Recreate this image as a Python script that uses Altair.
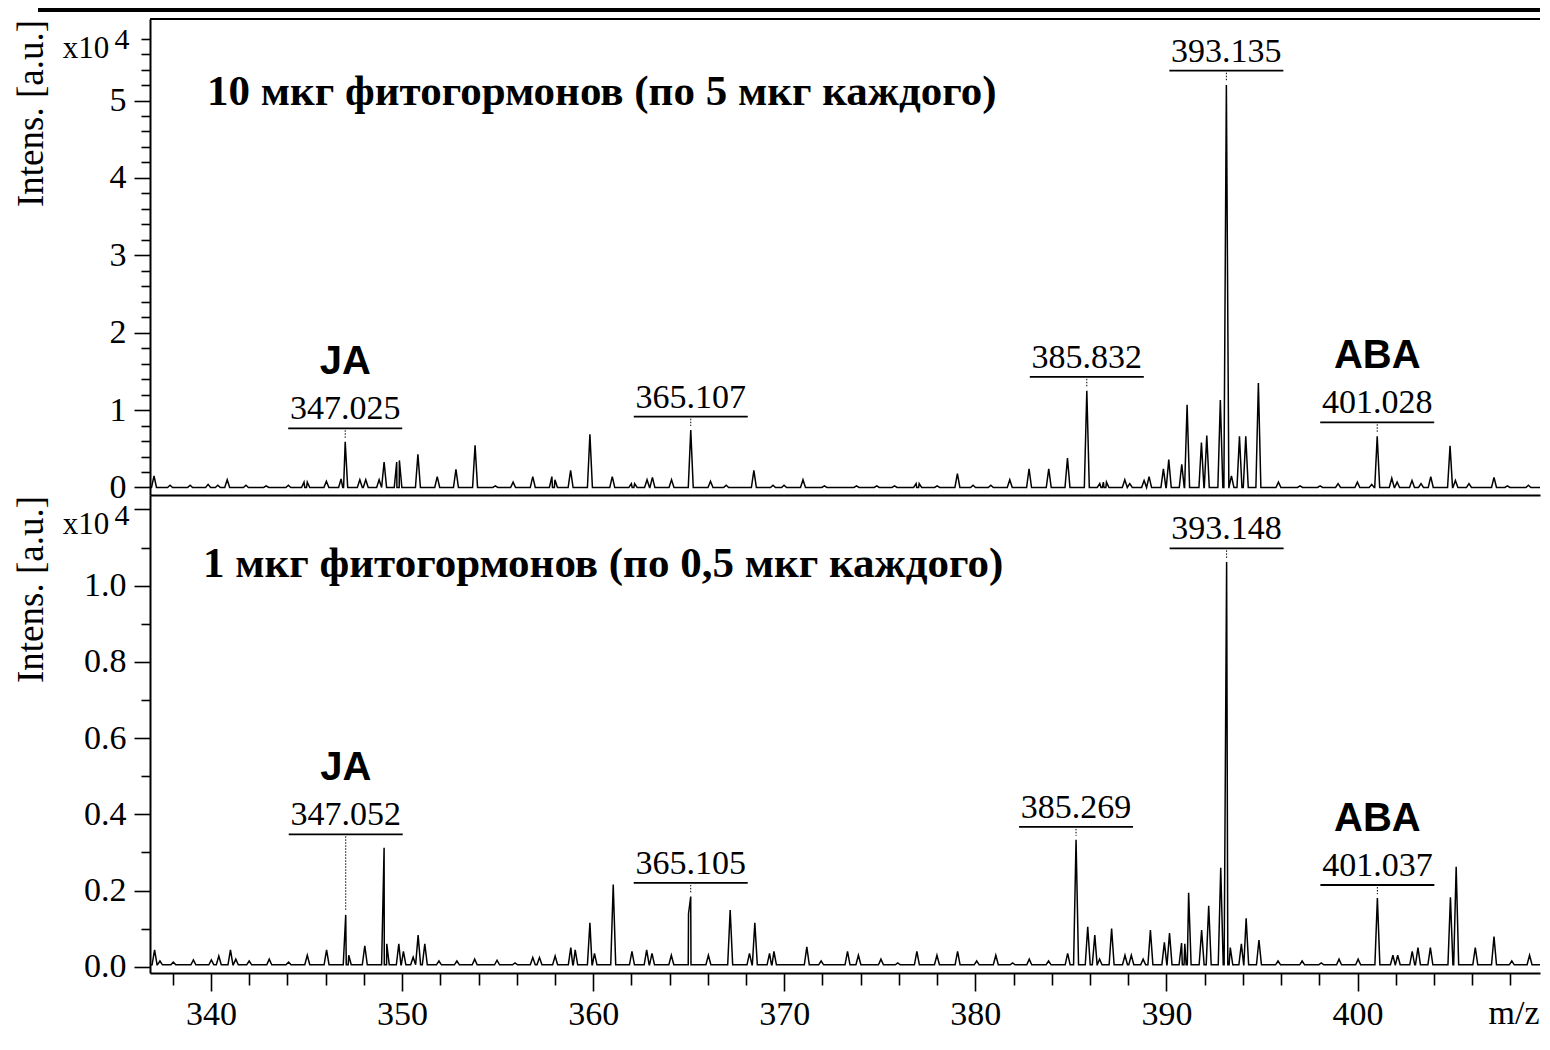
import altair as alt
import pandas as pd

# ---------------- data (m/z, intensity in units of 10^4) ----------------
top_mz = [337.02, 337.86, 338.91, 339.85, 340.36, 340.85, 341.83, 342.89, 344.05, 344.87,
          345.04, 346.04, 346.81, 347.025, 347.79, 348.10, 348.80, 349.06, 349.72, 349.86,
          350.83, 351.84, 352.82, 353.82, 354.88, 355.81, 356.84, 357.84, 358.00, 358.82,
          359.83, 361.00, 362.00, 362.17, 362.82, 363.10, 364.10, 365.107, 366.14, 366.96,
          368.41, 369.41, 369.99, 370.98, 372.10, 373.78, 374.84, 375.77, 376.90, 377.06,
          378.00, 379.06, 379.88, 380.81, 381.80, 382.81, 383.84, 384.82, 385.832, 386.51,
          386.70, 386.86, 387.82, 388.08, 388.83, 389.09, 389.84, 390.12, 390.80, 391.08,
          391.83, 392.11, 392.82, 393.135, 393.40, 393.82, 394.15, 394.81, 395.86, 396.99,
          398.04, 398.98, 399.99, 400.74, 401.028, 401.79, 402.07, 402.85, 403.32, 403.83,
          404.84, 405.12, 405.83, 407.14, 407.84, 408.94, 409.88]
top_int = [0.15, 0.03, 0.03, 0.04, 0.03, 0.10, 0.03, 0.02, 0.03, 0.07,
           0.07, 0.08, 0.11, 0.59, 0.10, 0.10, 0.10, 0.33, 0.33, 0.35,
           0.43, 0.14, 0.235, 0.545, 0.02, 0.07, 0.14, 0.14, 0.10, 0.22,
           0.687, 0.14, 0.05, 0.05, 0.10, 0.13, 0.10, 0.743, 0.08, 0.03,
           0.22, 0.03, 0.03, 0.10, 0.02, 0.02, 0.02, 0.02, 0.05, 0.05,
           0.02, 0.18, 0.03, 0.03, 0.10, 0.24, 0.24, 0.38, 1.25, 0.05,
           0.07, 0.07, 0.10, 0.05, 0.09, 0.14, 0.24, 0.36, 0.30, 1.07,
           0.58, 0.67, 1.13, 5.20, 0.15, 0.66, 0.66, 1.35, 0.07, 0.02,
           0.02, 0.05, 0.07, 0.04, 0.66, 0.12, 0.07, 0.09, 0.05, 0.14,
           0.54, 0.09, 0.05, 0.13, 0.02, 0.03, 0.03]

bot_mz = [337.05, 337.33, 338.03, 339.08, 340.02, 340.41, 341.02, 341.30, 342.00, 343.05,
          344.06, 345.04, 346.05, 347.052, 347.21, 348.05, 349.06, 349.20, 349.83, 350.07,
          350.58, 350.84, 351.19, 351.93, 352.87, 353.80, 354.97, 355.91, 356.84, 357.19,
          358.01, 358.83, 359.06, 359.83, 360.07, 361.05, 362.03, 362.80, 363.08, 364.09,
          364.99, 365.105, 366.03, 367.17, 368.18, 368.46, 369.23, 369.46, 371.18, 371.93,
          373.31, 373.88, 375.06, 375.94, 376.94, 377.99, 379.07, 380.07, 381.07, 381.95,
          382.82, 383.83, 384.83, 385.269, 385.88, 386.25, 386.50, 387.13, 387.83, 388.16,
          388.78, 389.16, 389.89, 390.16, 390.79, 390.96, 391.16, 391.84, 392.21, 392.84,
          393.148, 393.34, 393.92, 394.17, 394.84, 395.84, 397.10, 398.10, 399.03, 400.03,
          401.037, 401.85, 402.10, 402.86, 403.16, 403.81, 404.86, 405.16, 406.16, 407.14,
          408.07, 409.00, 409.90]
bot_int = [0.044, 0.015, 0.012, 0.018, 0.018, 0.028, 0.044, 0.020, 0.015, 0.020,
           0.012, 0.030, 0.044, 0.136, 0.030, 0.055, 0.312, 0.060, 0.060, 0.040,
           0.025, 0.083, 0.060, 0.015, 0.015, 0.020, 0.017, 0.010, 0.024, 0.024,
           0.028, 0.050, 0.044, 0.115, 0.035, 0.216, 0.040, 0.044, 0.035, 0.030,
           0.139, 0.184, 0.030, 0.149, 0.035, 0.115, 0.035, 0.040, 0.052, 0.015,
           0.040, 0.030, 0.020, 0.010, 0.040, 0.030, 0.040, 0.015, 0.030, 0.010,
           0.020, 0.015, 0.035, 0.333, 0.105, 0.083, 0.020, 0.100, 0.030, 0.030,
           0.020, 0.096, 0.064, 0.088, 0.062, 0.060, 0.194, 0.096, 0.160, 0.260,
           1.062, 0.050, 0.060, 0.127, 0.070, 0.015, 0.015, 0.010, 0.020, 0.020,
           0.180, 0.030, 0.030, 0.040, 0.050, 0.050, 0.182, 0.262, 0.050, 0.079,
           0.015, 0.030, 0.015]

top_base = 0.0
bot_base = 0.005

# annotations: label text, m/z, peak apex, underline level, tag
top_ann_text = ["347.025", "365.107", "385.832", "393.135", "401.028"]
top_ann_mz = [347.025, 365.107, 385.832, 393.135, 401.028]
top_ann_peak = [0.59, 0.743, 1.25, 5.20, 0.66]
top_ann_level = [0.765, 0.915, 1.43, 5.385, 0.842]
top_ann_tag = ["JA", "", "", "", "ABA"]

bot_ann_text = ["347.052", "365.105", "385.269", "393.148", "401.037"]
bot_ann_mz = [347.052, 365.105, 385.269, 393.148, 401.037]
bot_ann_peak = [0.136, 0.184, 0.333, 1.062, 0.180]
bot_ann_level = [0.3475, 0.220, 0.367, 1.098, 0.2144]
bot_ann_tag = ["JA", "", "", "", "ABA"]

top_title = "10 мкг фитогормонов (по 5 мкг каждого)"
bot_title = "1 мкг фитогормонов (по 0,5 мкг каждого)"
y_title = "Intens. [a.u.]"
x_title = "m/z"
exp_base = "x10"
exp_power = "4"

x_ticks = [338 + 2 * i for i in range(37)]
top_y_ticks = [round(0.2 * i, 1) for i in range(30)]
bot_y_ticks = [round(0.1 * i, 1) for i in range(13)]

W = 1390
X_DOMAIN = [336.81, 336.81 + W / 19.11]
TOP_DOMAIN = [-0.097, 6.053]
BOT_DOMAIN = [-0.0165, 1.238]
H_TOP = 476
H_BOT = 478

SERIF = "Liberation Serif"
SANS = "Liberation Sans"


def profile(mz, inten, base, w=0.13):
    lo, hi = X_DOMAIN
    pts = []
    for m, h in sorted(zip(mz, inten)):
        pts += [(m - w, base), (m, h), (m + w, base)]
    pts = [p for p in pts if lo <= p[0] <= hi]
    pts = [(lo, base)] + pts + [(hi, base)]
    pts.sort(key=lambda p: p[0])
    df = pd.DataFrame(pts, columns=["mz", "I"])
    df["idx"] = range(len(df))
    return df


xscale = alt.Scale(domain=X_DOMAIN, nice=False, zero=False)


def y_axis(ticks, label_test, label_fmt, max_label):
    return alt.Axis(
        values=ticks,
        labelExpr=f"({label_test}) && datum.value < {max_label} ? format(datum.value, '{label_fmt}') : ''",
        tickSize={"condition": {"test": label_test, "value": 16}, "value": 9},
        labelPadding=8,
        labelOverlap=False,
        labelFlush=False,
        labelBound=False,
        grid=False,
        title=y_title,
        titleX=-119,
        titleY=94,
        titleAngle=270,
        titleAlign="center",
        titleBaseline="middle",
        titleFont=SERIF,
        titleFontSize=37,
        titleFontWeight="normal",
        titleColor="black",
    )


top_yaxis = y_axis(top_y_ticks, "abs(datum.value - round(datum.value)) < 0.001", "d", 5.5)
bot_yaxis = y_axis(bot_y_ticks, "abs(datum.value*5 - round(datum.value*5)) < 0.001", ".1f", 1.1)

top_xaxis = alt.Axis(ticks=False, labels=False, grid=False, title=None, domain=True)

x_test = "abs(datum.value/10 - round(datum.value/10)) < 0.001"
bot_xaxis = alt.Axis(
    values=x_ticks,
    labelExpr=f"({x_test}) && datum.value < 405 ? format(datum.value, 'd') : ''",
    tickSize={"condition": {"test": x_test, "value": 18}, "value": 12},
    labelPadding=6,
    labelOverlap=False,
    labelFlush=False,
    labelBound=False,
    grid=False,
    title=x_title,
    titleX=W - 52,
    titleY=50,
    titleAlign="left",
    titleAnchor="start",
    titleBaseline="alphabetic",
    titleFont=SERIF,
    titleFontSize=34,
    titleFontWeight="normal",
    titleColor="black",
)


def panel(mz, inten, base, ydomain, yaxis, xaxis, height, ann, title, title_xy, top_rule):
    yscale = alt.Scale(domain=ydomain, nice=False, zero=False)
    spec = profile(mz, inten, base)
    line = alt.Chart(spec).mark_line(color="black", strokeWidth=1.5, clip=True).encode(
        x=alt.X("mz:Q", scale=xscale, axis=xaxis),
        y=alt.Y("I:Q", scale=yscale, axis=yaxis),
        order="idx:Q",
    )
    adf = pd.DataFrame({"mz": ann[1], "peak": ann[2], "level": ann[3], "txt": ann[0], "tag": ann[4]})
    abase = alt.Chart(adf)
    xe = alt.X("mz:Q", scale=xscale, axis=xaxis)
    ye = alt.Y("level:Q", scale=yscale, axis=yaxis)
    underline = abase.mark_rule(color="black", strokeWidth=1.8, xOffset=-57, x2Offset=57).encode(
        x=xe, x2="mz:Q", y=ye)
    dotted = abase.mark_rule(color="black", strokeWidth=1, strokeDash=[1.5, 1.5], yOffset=2, y2Offset=-4).encode(
        x=xe, y=ye, y2="peak:Q")
    label = abase.mark_text(dy=-9, baseline="alphabetic", align="center", font=SERIF, fontSize=34, color="black").encode(
        x=xe, y=ye, text="txt:N")
    tag = abase.transform_filter("datum.tag != ''").mark_text(
        dy=-54, baseline="alphabetic", align="center", font=SANS, fontWeight="bold", fontSize=40, color="black"
    ).encode(x=xe, y=ye, text="tag:N")

    one = alt.Chart(pd.DataFrame({"k": [0]}))
    ttl = one.mark_text(align="left", baseline="alphabetic", font=SERIF, fontWeight="bold", fontSize=43, color="black").encode(
        x=alt.value(title_xy[0]), y=alt.value(title_xy[1]), text=alt.value(title))
    e1 = one.mark_text(align="center", baseline="alphabetic", font=SERIF, fontSize=31, color="black").encode(
        x=alt.value(-64), y=alt.value(39), text=alt.value(exp_base))
    e2 = one.mark_text(align="center", baseline="alphabetic", font=SERIF, fontSize=30, color="black").encode(
        x=alt.value(-28), y=alt.value(30), text=alt.value(exp_power))
    layers = [line, underline, dotted, label, tag, ttl, e1, e2]
    if top_rule:
        frame_top = one.mark_rule(color="black", strokeWidth=2).encode(
            x=alt.value(0), x2=alt.value(W), y=alt.value(0))
        thick = one.mark_rule(color="black", strokeWidth=4).encode(
            x=alt.value(-112), x2=alt.value(W), y=alt.value(-9))
        layers += [frame_top, thick]
    return alt.layer(*layers).properties(width=W, height=height)


top = panel(top_mz, top_int, top_base, TOP_DOMAIN, top_yaxis, top_xaxis, H_TOP,
            (top_ann_text, top_ann_mz, top_ann_peak, top_ann_level, top_ann_tag),
            top_title, (57, 86), True)
bot = panel(bot_mz, bot_int, bot_base, BOT_DOMAIN, bot_yaxis, bot_xaxis, H_BOT,
            (bot_ann_text, bot_ann_mz, bot_ann_peak, bot_ann_level, bot_ann_tag),
            bot_title, (53, 82), False)

chart = alt.vconcat(top, bot, spacing=0, bounds="flush").properties(
    padding={"left": 3, "top": 0, "right": 0, "bottom": 0},
    background="white",
).configure_view(
    stroke=None
).configure_axis(
    domainColor="black", domainWidth=2, tickColor="black", tickWidth=1.6,
    labelFont=SERIF, labelFontSize=34, labelColor="black",
)

chart.save("out.html", embed_options={"renderer": "svg", "actions": False})
